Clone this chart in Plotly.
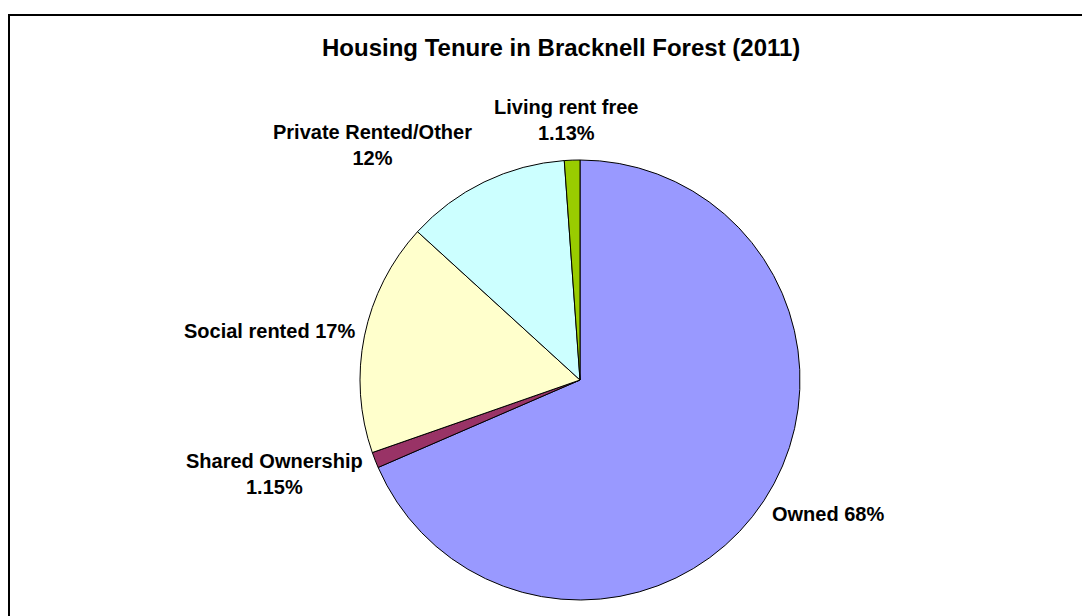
import plotly.graph_objects as go

categories = ["Owned", "Shared Ownership", "Social rented", "Private Rented/Other", "Living rent free"]
values = [68, 1.15, 17, 12, 1.13]
value_labels = ["68%", "1.15%", "17%", "12%", "1.13%"]
colors = ["#9999FF", "#993366", "#FFFFCC", "#CCFFFF", "#99CC00"]
title_text = "Housing Tenure in Bracknell Forest (2011)"

W, H = 1082, 616
cx, cy, r = 580, 380, 220

fig = go.Figure(go.Pie(
    labels=categories,
    values=values,
    sort=False,
    direction="clockwise",
    rotation=0,
    marker=dict(colors=colors, line=dict(color="black", width=1)),
    textinfo="none",
    hoverinfo="label+percent",
    showlegend=False,
    domain=dict(x=[(cx - r) / W, (cx + r) / W], y=[(H - cy - r) / H, (H - cy + r) / H]),
))

FONT = "Liberation Sans, Arial, sans-serif"
font = dict(family=FONT, size=20, color="black")

def px(x, y):
    return x / W, 1 - y / H

# label text and positions (pixel centres)
label_specs = [
    ("Owned " + value_labels[0], 828, 514),
    ("Shared Ownership<br>" + value_labels[1], 274, 474),
    ("Social rented " + value_labels[2], 269, 331),
    ("Private Rented/Other<br>" + value_labels[3], 372, 145),
    ("Living rent free<br>" + value_labels[4], 566, 120),
]

annotations = []
for text, x, y in label_specs:
    ax, ay = px(x, y)
    annotations.append(dict(text="<b>%s</b>" % text, x=ax, y=ay, xref="paper", yref="paper",
                            xanchor="center", yanchor="middle", showarrow=False, font=font))

tx, ty = px(561, 47)
annotations.append(dict(text="<b>%s</b>" % title_text, x=tx, y=ty,
                        xref="paper", yref="paper", xanchor="center", yanchor="middle",
                        showarrow=False, font=dict(family=FONT, size=24, color="black")))

fig.update_layout(
    width=W, height=H,
    margin=dict(l=0, r=0, t=0, b=0),
    paper_bgcolor="white",
    plot_bgcolor="white",
    annotations=annotations,
    shapes=[dict(type="rect", xref="paper", yref="paper", x0=9 / W, x1=1.05, y0=-0.05, y1=1 - 15 / H,
                 line=dict(color="black", width=2))],
)

fig.write_html("out.html",
               config={"displayModeBar": False},
               post_script="document.body.style.margin='0';document.body.style.overflow='hidden';")
